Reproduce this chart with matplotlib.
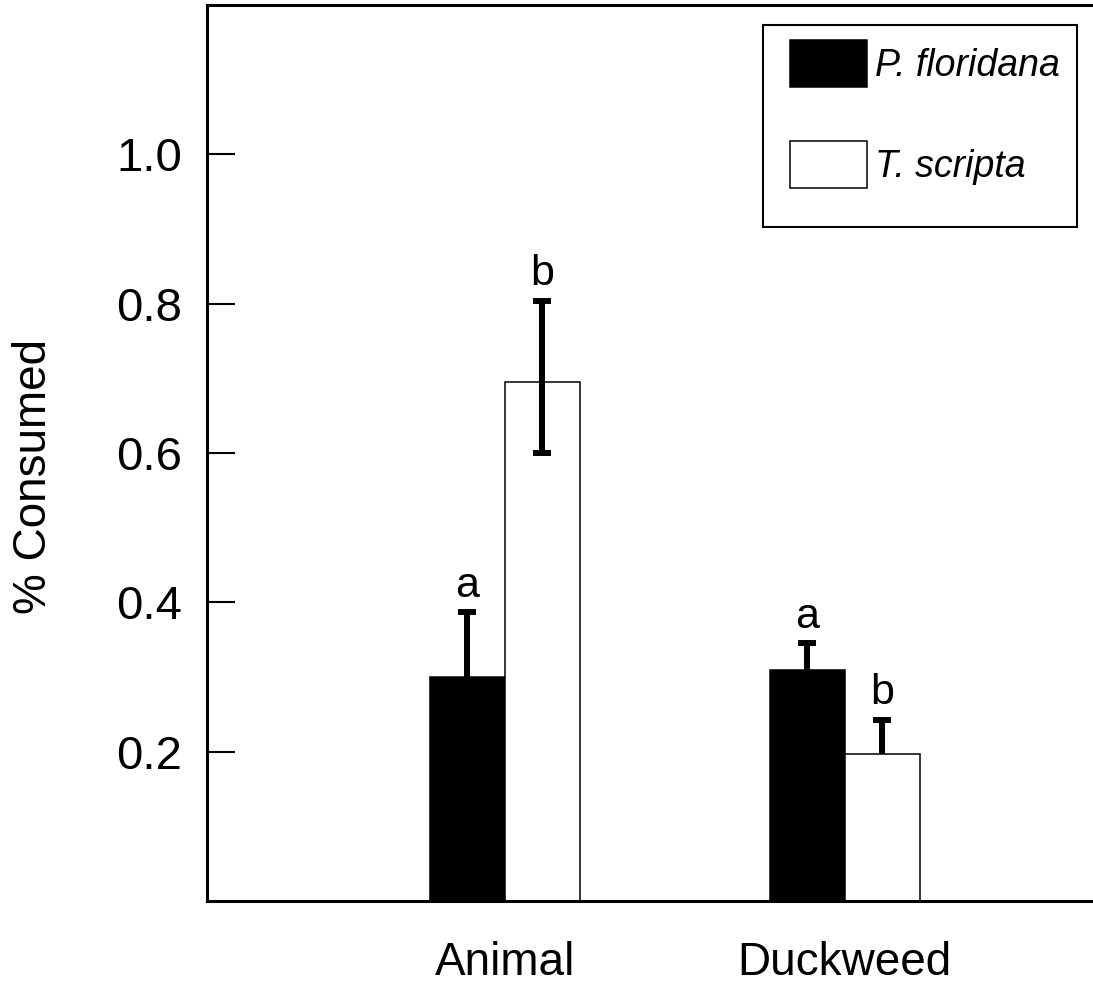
import matplotlib
matplotlib.use("Agg")
import matplotlib.pyplot as plt
from matplotlib.patches import Rectangle
import numpy as np

plt.rcParams['font.family'] = ['Liberation Sans', 'DejaVu Sans']

categories = ["Animal", "Duckweed"]
series_names = ["P. floridana", "T. scripta"]
p_floridana = [0.30, 0.31]
p_floridana_err_up = [0.087, 0.035]
p_floridana_err_low = [0.0, 0.0]
t_scripta = [0.695, 0.197]
t_scripta_err_up = [0.109, 0.046]
t_scripta_err_low = [0.095, 0.0]
p_letters = ["a", "a"]
t_letters = ["b", "b"]
yticks = [0.2, 0.4, 0.6, 0.8, 1.0]
ytick_labels = ["0.2", "0.4", "0.6", "0.8", "1.0"]

W, H = 1093, 989
fig = plt.figure(figsize=(W / 100, H / 100), dpi=100)
ax = fig.add_axes([207 / W, (H - 901) / H, (W - 207) / W, (901 - 5) / H])

x = np.arange(len(categories))
w = 0.22
xb = x - w / 2
xw = x + w / 2

bars_p = ax.bar(xb, p_floridana, width=w, color="black", edgecolor="black", linewidth=1.1, zorder=2)
bars_t = ax.bar(xw, t_scripta, width=w, color="white", edgecolor="black", linewidth=1.1, zorder=2)

def draw_err(xs, vals, up, low, letters):
    xs = np.asarray(xs); vals = np.asarray(vals); up = np.asarray(up); low = np.asarray(low)
    ax.errorbar(xs, vals, yerr=[low, up], fmt="none", ecolor="black",
                elinewidth=4.3, capsize=0, zorder=3)
    ax.plot(xs, vals + up, ls="none", marker="_", markersize=13.6, mew=4.3,
            color="black", zorder=3)
    m = low > 0
    if m.any():
        ax.plot(xs[m], (vals - low)[m], ls="none", marker="_", markersize=13.6, mew=4.3,
                color="black", zorder=3)
    for xi, v, e, s in zip(xs, vals, up, letters):
        ax.annotate(s, (xi, v + e), xytext=(0, 11), textcoords="offset points",
                    ha="center", va="baseline", fontsize=31)

draw_err(xb, p_floridana, p_floridana_err_up, p_floridana_err_low, p_letters)
draw_err(xw, t_scripta, t_scripta_err_up, t_scripta_err_low, t_letters)

ax.set_xlim(-0.876, -0.876 + (W - 207) / 340)
ax.set_ylim(0, 1.2)
ax.set_yticks(yticks)
ax.set_yticklabels(ytick_labels)
ax.set_xticks(x)
ax.set_xticklabels(categories)
ax.tick_params(axis="y", direction="in", length=20, width=1.5, pad=18, labelsize=34)
ax.tick_params(axis="x", length=0, pad=29, labelsize=33)
ax.spines["right"].set_visible(False)
for sp in ["left", "bottom", "top"]:
    ax.spines[sp].set_linewidth(2.2)

fig.text(34 / W, 1 - 476 / H, "% Consumed", rotation=90, ha="center", va="center", fontsize=33)

leg = ax.legend([bars_p, bars_t], series_names, loc="upper left", bbox_to_anchor=(790 / W, 1 - 40 / H),
                bbox_transform=fig.transFigure, frameon=False, borderpad=0, borderaxespad=0,
                handlelength=2.05, handleheight=1.54, handletextpad=0.22, labelspacing=1.45,
                prop={"size": 27, "style": "italic"})
fig.patches.append(Rectangle((763 / W, 1 - 227 / H), 314 / W, 202 / H, transform=fig.transFigure,
                             fill=False, edgecolor="black", linewidth=1.5))

fig.savefig("out.png", dpi=100)
